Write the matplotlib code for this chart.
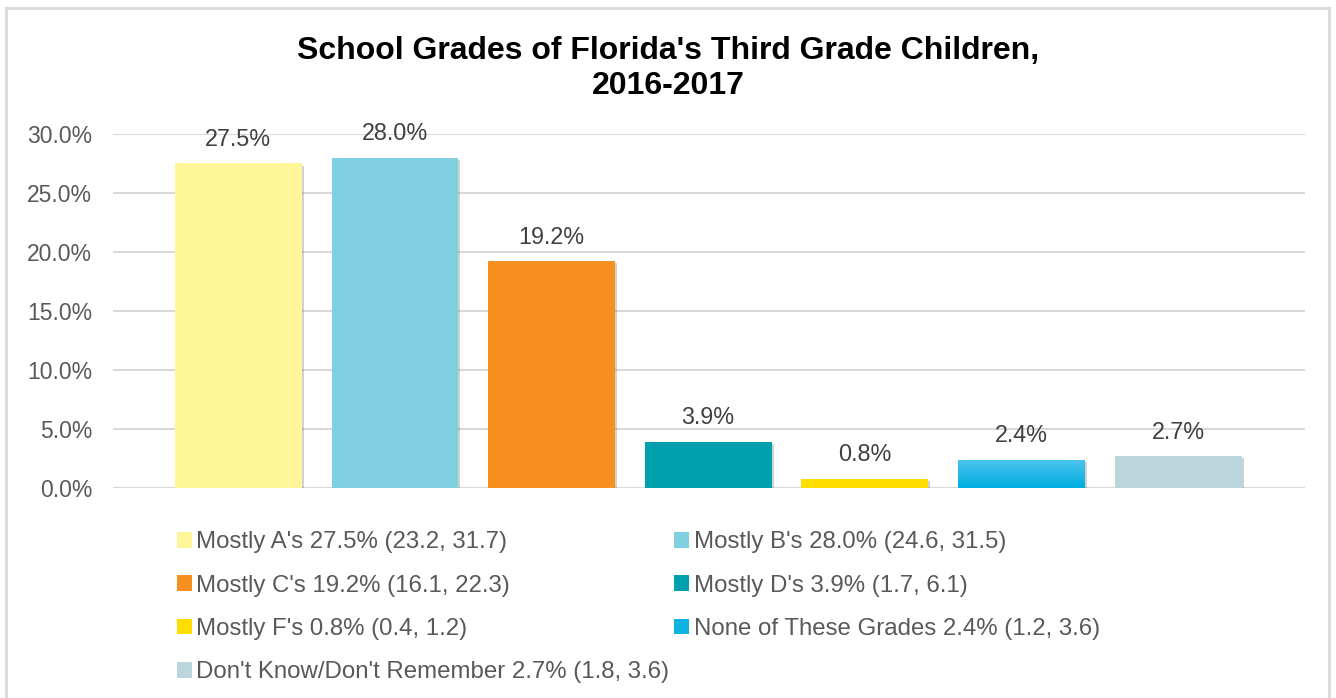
import matplotlib
matplotlib.use("Agg")
import matplotlib.pyplot as plt
import matplotlib.patheffects as pe
import numpy as np
from matplotlib.colors import LinearSegmentedColormap
from matplotlib.lines import Line2D
from matplotlib.patches import Patch

plt.rcParams["font.family"] = ["Liberation Sans", "DejaVu Sans"]

CATEGORIES = ["Mostly A's", "Mostly B's", "Mostly C's", "Mostly D's",
              "Mostly F's", "None of These Grades", "Don't Know/Don't Remember"]
VALUES = [27.5, 28.0, 19.2, 3.9, 0.8, 2.4, 2.7]
CI_LOW = [23.2, 24.6, 16.1, 1.7, 0.4, 1.2, 1.8]
CI_HIGH = [31.7, 31.5, 22.3, 6.1, 1.2, 3.6, 3.6]
COLORS = ["#FFF599", "#7FCFE1", "#F7901E", "#00A0AE", "#FFDD00", "#10B2E2", "#BBD5DC"]
Y_TICKS = [0, 5, 10, 15, 20, 25, 30]

TITLE = "School Grades of Florida's Third Grade Children,\n2016-2017"

fig = plt.figure(figsize=(13.36, 6.98), dpi=100)
ax = fig.add_axes([0.0846, 0.3009, 0.8922, 0.5072])

x = np.arange(len(CATEGORIES))
shadow = [pe.SimplePatchShadow(offset=(1.5, -1.5), shadow_rgbFace="#7f7f7f", alpha=0.35), pe.Normal()]
bars = ax.bar(x, VALUES, width=0.81, color=COLORS, zorder=3)
for b in bars:
    b.set_path_effects(shadow)

# gradient on the "None of These Grades" bar
gb = bars[5]
cmap = LinearSegmentedColormap.from_list("g", ["#00AEE0", "#4CC4EC"])
grad = np.linspace(0, 1, 100).reshape(-1, 1)
im = ax.imshow(grad, cmap=cmap, origin="lower", aspect="auto", zorder=4,
               extent=[gb.get_x(), gb.get_x() + gb.get_width(), 0, gb.get_height()])
im.set_clip_path(gb)

for xi, v in zip(x, VALUES):
    ax.annotate(f"{v:.1f}%", (xi, v), xytext=(0, 9), textcoords="offset points",
                ha="center", va="bottom", fontsize=16.8, color="#404040")

ax.set_xlim(-0.8, 6.81)
ax.set_ylim(0, 30)
ax.set_yticks(Y_TICKS)
ax.set_yticklabels([f"{t:.1f}%" for t in Y_TICKS])
ax.tick_params(axis="y", length=0, pad=15, labelsize=16.5, labelcolor="#595959")
ax.set_xticks([])
ax.grid(axis="y", color="#D9D9D9", linewidth=1.5, zorder=0)
for s in ax.spines.values():
    s.set_visible(False)
ax.axhline(0, color="#D9D9D9", linewidth=1.5, zorder=2)

fig.text(0.5, 0.902, TITLE, ha="center", va="center", fontsize=23,
         fontweight="bold", color="black", linespacing=1.2)

# legend, row-major order via column-major fill
labels = [f"{c} {v:.1f}% ({lo}, {hi})" for c, v, lo, hi in zip(CATEGORIES, VALUES, CI_LOW, CI_HIGH)]
handles = [Patch(facecolor=c, edgecolor="none") for c in COLORS]
order = [0, 2, 4, 6, 1, 3, 5]
leg = fig.legend([handles[i] for i in order], [labels[i] for i in order],
                 ncol=2, loc="upper left", bbox_to_anchor=(0.1322, 0.239),
                 frameon=False, fontsize=17.3, handlelength=0.62, handleheight=0.62,
                 handletextpad=0.2, columnspacing=0.2, labelspacing=0.89,
                 borderaxespad=0, borderpad=0, labelcolor="#595959")

# chart border
bc = "#D9D9D9"
fig.add_artist(Line2D([0.0045, 0.0045], [0, 0.9885], transform=fig.transFigure, color=bc, lw=2))
fig.add_artist(Line2D([0.0045, 0.9948], [0.9885, 0.9885], transform=fig.transFigure, color=bc, lw=2))
fig.add_artist(Line2D([0.9948, 0.9948], [0, 0.9885], transform=fig.transFigure, color=bc, lw=2))

fig.savefig("out.png", dpi=100)
